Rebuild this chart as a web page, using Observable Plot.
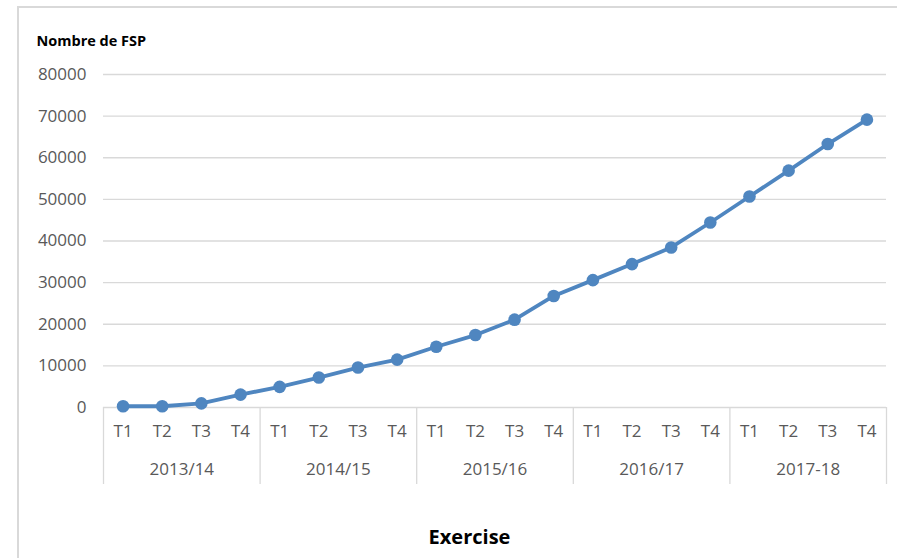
<!DOCTYPE html>
<html><head><meta charset="utf-8">
<script src="https://cdn.jsdelivr.net/npm/d3@7"></script>
<script src="https://cdn.jsdelivr.net/npm/@observablehq/plot@0.6"></script>
<style>
body{margin:0;background:#fff;}
#wrap{position:relative;width:897px;height:558px;overflow:hidden;}
#border{position:absolute;left:17px;top:6px;width:900px;height:600px;border-left:2px solid #d9d9d9;border-top:2px solid #d9d9d9;}
#chart{position:absolute;left:0;top:0;}
</style></head><body>
<div id="wrap"><div id="border"></div><div id="chart"></div></div>
<script>
const years = ["2013/14", "2014/15", "2015/16", "2016/17", "2017-18"];
const quarters = ["T1", "T2", "T3", "T4"];
const values = [300, 300, 1000, 3100, 4950, 7200, 9600, 11500, 14600, 17400, 21100, 26800, 30600, 34450, 38450, 44450, 50700, 56900, 63300, 69150];
const yTicks = [0, 10000, 20000, 30000, 40000, 50000, 60000, 70000, 80000];
const yLabel = "Nombre de FSP";
const xLabel = "Exercise";

const data = values.map((v, i) => ({i, v, q: quarters[i % 4], year: years[Math.floor(i / 4)]}));
const yearData = years.map((y, k) => ({year: y, mid: k * 4 + 1.5}));
const seps = d3.range(years.length + 1).map(k => k * 4 - 0.5);
const blue = "#4f86c0";
const grey = "#595959";

const chart = Plot.plot({
  width: 897, height: 558,
  marginLeft: 103, marginRight: 11, marginTop: 74, marginBottom: 151,
  style: {fontFamily: "'Open Sans', sans-serif", background: "transparent", overflow: "visible"},
  x: {type: "linear", domain: [-0.5, values.length - 0.5], axis: null},
  y: {domain: [0, 80000]},
  marks: [
    Plot.gridY(yTicks, {stroke: "#d9d9d9", strokeOpacity: 1, strokeWidth: 1.3}),
    Plot.axisY(yTicks, {tickSize: 0, tickPadding: 17, tickFormat: d => String(d), fontSize: 17, fill: grey, label: null}),
    Plot.ruleX(seps, {x: d => d, stroke: "#d9d9d9", strokeWidth: 1.3, insetTop: 333, insetBottom: -77}),
    Plot.text(data, {x: "i", text: "q", frameAnchor: "bottom", dy: 29, fontSize: 17, fill: grey}),
    Plot.text(yearData, {x: "mid", text: "year", frameAnchor: "bottom", dy: 67, fontSize: 17, fill: grey}),
    Plot.line(data, {x: "i", y: "v", stroke: blue, strokeWidth: 3.8}),
    Plot.dot(data, {x: "i", y: "v", r: 6.3, fill: blue}),
    Plot.text([yLabel], {text: d => d, frameAnchor: "top-left", dx: -67, dy: -39, textAnchor: "start", fontWeight: "bold", fontSize: 14.5, fill: "#000"}),
    Plot.text([xLabel], {text: d => d, frameAnchor: "bottom-left", dx: 366, dy: 136, textAnchor: "middle", fontWeight: "bold", fontSize: 20, fill: "#000"})
  ]
});
document.getElementById("chart").append(chart);
</script>
</body></html>
